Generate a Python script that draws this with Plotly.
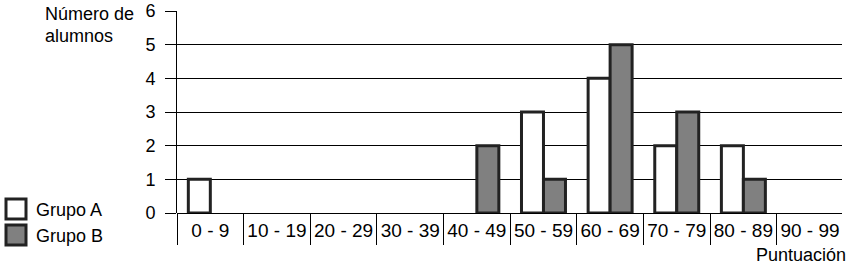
import plotly.graph_objects as go

categories = ["0 - 9", "10 - 19", "20 - 29", "30 - 39", "40 - 49",
              "50 - 59", "60 - 69", "70 - 79", "80 - 89", "90 - 99"]
grupo_a = [1, 0, 0, 0, 0, 3, 4, 2, 2, 0]
grupo_b = [0, 0, 0, 0, 2, 1, 5, 3, 1, 0]
y_ticks = [0, 1, 2, 3, 4, 5, 6]

W, H = 850, 266
L, R, T, B = 177, 8, 11, 53
FONT = "Liberation Sans, Arial, sans-serif"
OUT = "#222222"

def nz(vals):
    return [v if v != 0 else None for v in vals]

fig = go.Figure()
fig.add_trace(go.Bar(x=categories, y=nz(grupo_a), name="Grupo A",
                     marker=dict(color="white", line=dict(color=OUT, width=3))))
fig.add_trace(go.Bar(x=categories, y=nz(grupo_b), name="Grupo B",
                     marker=dict(color="#808080", line=dict(color=OUT, width=3))))

pw = W - L - R
ph = H - T - B
def px_x(px):
    return (px - L) / pw
def px_y(py):
    return (H - B - py) / ph

for i, (name, col) in enumerate([("Grupo A", "white"), ("Grupo B", "#808080")]):
    y0 = 199 + i * 26
    fig.add_shape(type="rect", xref="paper", yref="paper",
                  x0=px_x(6), x1=px_x(26), y0=px_y(y0 + 20), y1=px_y(y0),
                  fillcolor=col, line=dict(color=OUT, width=3))
    fig.add_annotation(xref="paper", yref="paper", x=px_x(34), y=px_y(y0 + 11),
                       text=name, showarrow=False, xanchor="left", yanchor="middle",
                       font=dict(size=18, color="black", family=FONT))

for j, line in enumerate(["Número de", "alumnos"]):
    fig.add_annotation(xref="paper", yref="paper", x=px_x(43), y=px_y(14 + 22 * j),
                       text=line, showarrow=False, xanchor="left",
                       yanchor="middle", align="left",
                       font=dict(size=18, color="black", family=FONT))
fig.add_annotation(xref="paper", yref="paper", x=px_x(848), y=px_y(255),
                   text="Puntuación", showarrow=False, xanchor="right",
                   yanchor="middle",
                   font=dict(size=18, color="black", family=FONT))

fig.update_layout(
    width=W, height=H, margin=dict(l=L, r=R, t=T, b=B, autoexpand=False),
    paper_bgcolor="white", plot_bgcolor="white",
    showlegend=False, barmode="group", bargap=0.34, bargroupgap=0,
    font=dict(family=FONT, size=18, color="black"),
    xaxis=dict(type="category", range=[-0.5, 9.48], showgrid=False, automargin=False,
               ticks="outside", tickson="boundaries", ticklen=31, tickwidth=1,
               tickcolor="black", ticklabelstandoff=4, tickangle=0, showline=False,
               zeroline=False, tickfont=dict(size=19)),
    yaxis=dict(range=[0, 6], tickvals=y_ticks, showgrid=True, gridcolor="black",
               gridwidth=1, zeroline=True, zerolinecolor="black", zerolinewidth=1,
               showline=True, linecolor="black", linewidth=1, automargin=False,
               ticks="outside", ticklen=11, tickcolor="black",
               ticklabelstandoff=6, tickfont=dict(size=18)),
)

fig.write_html("out.html")
